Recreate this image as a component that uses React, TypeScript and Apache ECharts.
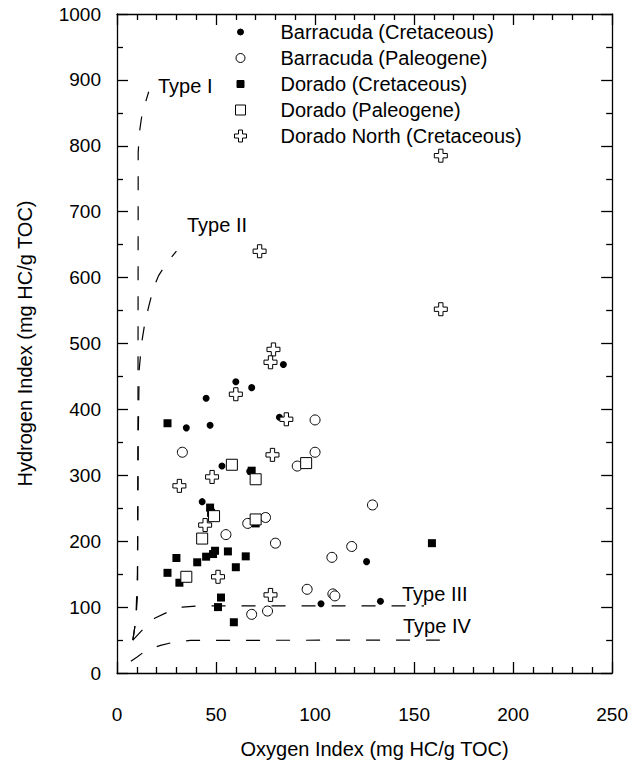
import React, { useEffect, useRef } from "react";
import * as echarts from "echarts";

// ---- data (Oxygen Index, Hydrogen Index) ----
const barracudaCretaceous: number[][] = [
  [84, 468], [60, 442], [68, 433], [45, 417], [82, 388], [35, 372], [47, 376],
  [53, 314], [67, 306], [43, 260], [103, 105], [126, 169], [133, 109], [109, 121],
];
const barracudaPaleogene: number[][] = [
  [100, 384], [33, 335], [100, 335], [91, 314], [66, 227], [75, 236], [55, 210],
  [80, 197], [118.5, 192], [108.5, 175.5], [96, 127], [109, 120], [110, 117],
  [68, 89], [76, 94], [129, 255],
];
const doradoCretaceous: number[][] = [
  [25.5, 379], [68, 307], [47, 251], [47.5, 243], [70, 227], [30, 174.5],
  [25.5, 152], [31.5, 137], [40.5, 168], [45, 176.5], [48.5, 180.5], [49.5, 185.5],
  [56, 184.5], [65, 177], [60, 160.5], [52.5, 114.5], [51, 100], [59, 77], [159, 197],
];
const doradoPaleogene: number[][] = [
  [58, 316], [70, 294], [95.5, 318.5], [49, 238], [70, 233], [43, 204], [35, 146],
];
const doradoNorth: number[][] = [
  [163.5, 785], [163.5, 552], [72, 640], [79, 491], [77.5, 471.5], [60, 423],
  [85.5, 385], [78.5, 331], [48, 297.5], [31.5, 284], [44.5, 224.5], [51, 146], [77.5, 118.5],
];

// kerogen type curves
const typeI: number[][] = [
  [8, 50], [9.5, 80], [10.4, 120], [10.6, 400], [10.7, 790], [11.3, 820], [12.5, 845], [14, 862], [16, 882],
];
const typeII: number[][] = [
  [8, 50], [9.5, 80], [10.3, 150], [10.7, 350], [11.2, 460], [12.4, 500], [14, 530],
  [16, 556], [18.5, 585], [21, 603], [25, 622], [30, 640],
];
const typeIII: number[][] = [
  [8, 50], [13, 66], [19, 83], [26, 93], [33, 100], [42, 102], [155, 102],
];
const typeIV: number[][] = [
  [7, 18], [10, 24], [15, 35], [22, 42], [29, 47], [37, 49.5], [163, 50],
];

const seriesNames = [
  "Barracuda (Cretaceous)",
  "Barracuda (Paleogene)",
  "Dorado (Cretaceous)",
  "Dorado (Paleogene)",
  "Dorado North (Cretaceous)",
];

const xTicks = { min: 0, max: 250, interval: 50 };
const yTicks = { min: 0, max: 1000, interval: 100 };

const FONT = "'Liberation Sans', Arial, Helvetica, sans-serif";
const FS = 19;
const FS_TEXT = 20;
const CROSS = "path://M4,0L8,0L8,4L12,4L12,8L8,8L8,12L4,12L4,8L0,8L0,4L4,4Z";

// legend icons drawn inside a common 14x14 box so their relative sizes match the plot
const BOX = "M0,0M14,14";
const LEG_DOT = `path://${BOX}M4,7A3,3,0,1,0,10,7A3,3,0,1,0,4,7Z`;
const LEG_RING = `path://${BOX}M2.5,7A4.5,4.5,0,1,0,11.5,7A4.5,4.5,0,1,0,2.5,7Z`;
const LEG_SQ_FILLED = `path://${BOX}M3.5,3.5L10.5,3.5L10.5,10.5L3.5,10.5Z`;
const LEG_SQ_OPEN = `path://${BOX}M2,2L12,2L12,12L2,12Z`;
const LEG_CROSS = `path://${BOX}M5,1L9,1L9,5L13,5L13,9L9,9L9,13L5,13L5,9L1,9L1,5L5,5Z`;

export default function App() {
  const ref = useRef<HTMLDivElement>(null);
  useEffect(() => {
    if (!ref.current) return;
    const chart = echarts.init(ref.current, undefined, { renderer: "svg" });

    const axisCommon = {
      type: "value" as const,
      splitLine: { show: false },
      axisLine: { show: true, onZero: false, lineStyle: { color: "#000", width: 1.3 } },
      axisTick: { show: true, inside: true, length: 11, lineStyle: { color: "#000", width: 1.3 } },
      minorTick: { show: true, length: 6, lineStyle: { color: "#000", width: 1.3 } },
    };

    const curve = (name: string, data: number[][]) => ({
      name,
      type: "line" as const,
      data,
      showSymbol: false,
      symbol: "none",
      smooth: false,
      silent: true,
      lineStyle: { color: "#000", width: 1.2, type: [14, 16] },
      z: 1,
    });

    const scatter = (
      name: string,
      data: number[][],
      symbol: string,
      size: number,
      fill: string,
      border: number
    ) => ({
      name,
      type: "scatter" as const,
      data,
      symbol,
      symbolSize: size,
      itemStyle: { color: fill, borderColor: "#000", borderWidth: border, opacity: 1 },
      z: 3,
    });

    const textEl = (text: string, x: number, y: number) => ({
      type: "text" as const,
      x,
      y,
      style: { text, fill: "#000", fontSize: FS_TEXT, fontFamily: FONT, verticalAlign: "middle", align: "left" },
    });

    chart.setOption({
      animation: false,
      backgroundColor: "#fff",
      textStyle: { fontFamily: FONT },
      grid: { left: 117, right: 18, top: 14, bottom: 89, containLabel: false },
      legend: {
        data: [
          { name: seriesNames[0], icon: LEG_DOT },
          { name: seriesNames[1], icon: LEG_RING },
          { name: seriesNames[2], icon: LEG_SQ_FILLED },
          { name: seriesNames[3], icon: LEG_SQ_OPEN },
          { name: seriesNames[4], icon: LEG_CROSS },
        ],
        orient: "vertical",
        left: 228,
        top: 17,
        padding: 5,
        itemWidth: 70,
        itemHeight: 14,
        itemGap: 6,
        symbolKeepAspect: true,
        itemStyle: { borderWidth: 1 },
        textStyle: { fontSize: FS_TEXT, fontFamily: FONT, color: "#000", lineHeight: 19 },
        selectedMode: false,
      },
      xAxis: [
        {
          ...axisCommon,
          ...xTicks,
          position: "bottom",
          minorTick: { ...axisCommon.minorTick, splitNumber: 5 },
          axisLabel: { color: "#000", fontSize: FS, fontFamily: FONT, margin: 32 },
          name: "Oxygen Index (mg HC/g TOC)",
          nameLocation: "middle",
          nameGap: 66,
          nameTextStyle: { color: "#000", fontSize: FS_TEXT, fontFamily: FONT, padding: [0, 0, 0, 20] },
        },
        {
          ...axisCommon,
          ...xTicks,
          position: "top",
          minorTick: { ...axisCommon.minorTick, splitNumber: 5 },
          axisLabel: { show: false },
        },
      ],
      yAxis: [
        {
          ...axisCommon,
          ...yTicks,
          position: "left",
          minorTick: { ...axisCommon.minorTick, splitNumber: 2 },
          axisLabel: {
            color: "#000",
            fontSize: FS,
            fontFamily: FONT,
            margin: 16,
            formatter: (v: number) => String(v),
          },
          name: "Hydrogen Index (mg HC/g TOC)",
          nameLocation: "middle",
          nameGap: 82,
          nameTextStyle: { color: "#000", fontSize: FS_TEXT, fontFamily: FONT },
        },
        {
          ...axisCommon,
          ...yTicks,
          position: "right",
          minorTick: { ...axisCommon.minorTick, splitNumber: 2 },
          axisLabel: { show: false },
        },
      ],
      series: [
        curve("Type I", typeI),
        curve("Type II", typeII),
        curve("Type III", typeIII),
        curve("Type IV", typeIV),
        scatter(seriesNames[0], barracudaCretaceous, "circle", 7, "#000", 0),
        scatter(seriesNames[1], barracudaPaleogene, "circle", 10, "#fff", 1),
        scatter(seriesNames[2], doradoCretaceous, "rect", 8, "#000", 0),
        scatter(seriesNames[3], doradoPaleogene, "rect", 11, "#fff", 1),
        scatter(seriesNames[4], doradoNorth, CROSS, 13, "#fff", 1),
      ],
      graphic: [
        textEl("Type I", 158, 86),
        textEl("Type II", 187, 225),
        textEl("Type III", 402, 594),
        textEl("Type IV", 403, 626),
      ],
    });
    return () => chart.dispose();
  }, []);
  return (
    <div
      ref={ref}
      style={{ position: "absolute", left: 0, top: 0, width: 631, height: 764 }}
    />
  );
}
